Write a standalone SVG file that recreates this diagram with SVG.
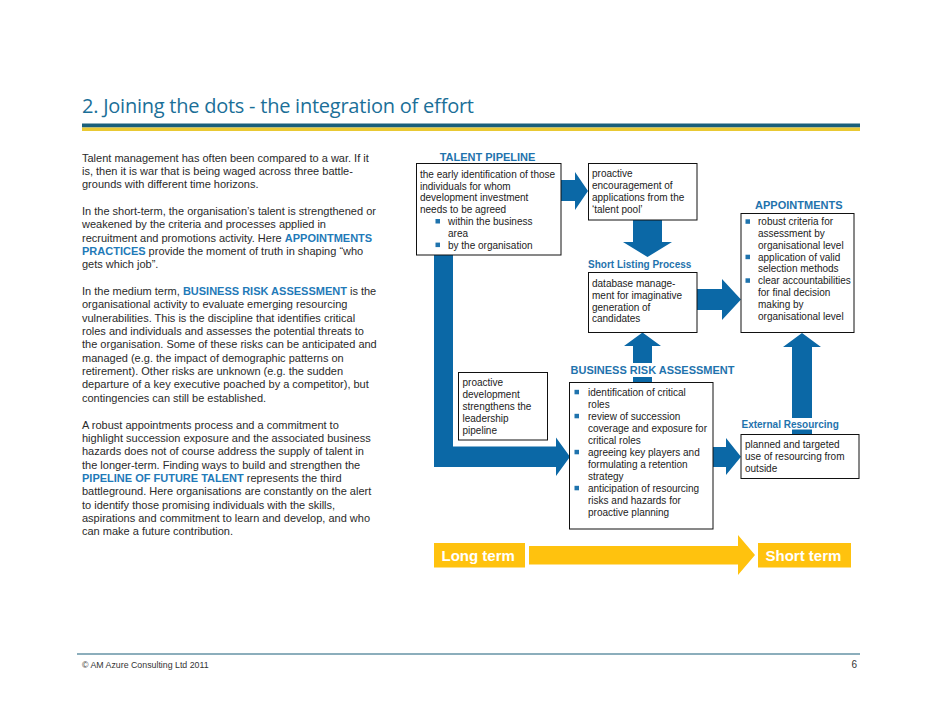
<svg xmlns="http://www.w3.org/2000/svg" width="942" height="728" viewBox="0 0 942 728">
<style>
.body{font-family:"Liberation Sans",Arial,sans-serif;font-size:11px;fill:#2a2a2a}
.hl{font-weight:bold;fill:#1f7ab8}
.t{font-family:"Liberation Sans",Arial,sans-serif;font-size:10px;fill:#222}
.lbl{font-family:"Liberation Sans",Arial,sans-serif;font-weight:bold;fill:#1f73ad}
.box{fill:#fff;stroke:#111;stroke-width:1}
.arr{fill:#0b68a6}
.bul{fill:#1f73ad}
.yel{fill:#ffc20e}
.wt{font-family:"Liberation Sans",Arial,sans-serif;font-size:15px;font-weight:bold;fill:#fff}
</style>
<rect width="942" height="728" fill="#fff"/>
<g id="title">
<text x="82" y="113" font-family="'Open Sans',sans-serif" font-size="20" fill="#1b6f98" textLength="392" lengthAdjust="spacing">2. Joining the dots - the integration of effort</text>
<rect x="82" y="123.5" width="778" height="4" fill="#1a5f7a"/>
<rect x="82" y="127.5" width="778" height="3.5" fill="#e9c934"/>
</g>
<g id="body-text" class="body">
<text x="82" y="161.5">Talent management has often been compared to a war. If it</text>
<text x="82" y="174.85">is, then it is war that is being waged across three battle-</text>
<text x="82" y="188.2">grounds with different time horizons.</text>
<text x="82" y="214.9">In the short-term, the organisation’s talent is strengthened or</text>
<text x="82" y="228.25">weakened by the criteria and processes applied in</text>
<text x="82" y="241.6">recruitment and promotions activity. Here <tspan class="hl">APPOINTMENTS</tspan></text>
<text x="82" y="254.95"><tspan class="hl">PRACTICES</tspan> provide the moment of truth in shaping “who</text>
<text x="82" y="268.3">gets which job”.</text>
<text x="82" y="295"><tspan>In the medium term, </tspan><tspan class="hl">BUSINESS RISK ASSESSMENT</tspan> is the</text>
<text x="82" y="308.35">organisational activity to evaluate emerging resourcing</text>
<text x="82" y="321.7">vulnerabilities. This is the discipline that identifies critical</text>
<text x="82" y="335.05">roles and individuals and assesses the potential threats to</text>
<text x="82" y="348.4">the organisation. Some of these risks can be anticipated and</text>
<text x="82" y="361.75">managed (e.g. the impact of demographic patterns on</text>
<text x="82" y="375.1">retirement). Other risks are unknown (e.g. the sudden</text>
<text x="82" y="388.45">departure of a key executive poached by a competitor), but</text>
<text x="82" y="401.8">contingencies can still be established.</text>
<text x="82" y="428.5">A robust appointments process and a commitment to</text>
<text x="82" y="441.85">highlight succession exposure and the associated business</text>
<text x="82" y="455.2">hazards does not of course address the supply of talent in</text>
<text x="82" y="468.55">the longer-term. Finding ways to build and strengthen the</text>
<text x="82" y="481.9"><tspan class="hl">PIPELINE OF FUTURE TALENT</tspan> represents the third</text>
<text x="82" y="495.25">battleground. Here organisations are constantly on the alert</text>
<text x="82" y="508.6">to identify those promising individuals with the skills,</text>
<text x="82" y="521.95">aspirations and commitment to learn and develop, and who</text>
<text x="82" y="535.3">can make a future contribution.</text>
</g>
<g id="connectors">
<polygon class="arr" points="434,255 453,255 453,446.5 556,446.5 556,437.5 570,456.7 556,476 556,467 434,467"/>
<polygon class="arr" points="561,180 575,180 575,172 588,191 575,210 575,201 561,201"/>
<polygon class="arr" points="633,220 662,220 662,242 672,242 647.5,257 623,242 633,242"/>
<polygon class="arr" points="697,289 722,289 722,279 741,299.5 722,320 722,310 697,310"/>
<polygon class="arr" points="633,382 652,382 652,346 661,346 642.5,332.5 624,346 633,346"/>
<polygon class="arr" points="792,434 812,434 812,347 821,347 802,333 783,347 792,347"/>
<polygon class="arr" points="713,447 726,447 726,438 741,456.7 726,475 726,467 713,467"/>
</g>
<g id="talent-pipeline">
<text class="lbl" x="487.5" y="160.5" font-size="11" text-anchor="middle">TALENT PIPELINE</text>
<rect class="box" x="416.5" y="163.5" width="144.5" height="91.5"/>
<text class="t" x="420" y="177.7">the early identification of those</text>
<text class="t" x="420" y="189.5">individuals for whom</text>
<text class="t" x="420" y="201.3">development investment</text>
<text class="t" x="420" y="213.1">needs to be agreed</text>
<rect class="bul" x="435.5" y="219" width="4.5" height="4.5"/>
<text class="t" x="448" y="224.9">within the business</text>
<text class="t" x="448" y="236.7">area</text>
<rect class="bul" x="435.5" y="242.6" width="4.5" height="4.5"/>
<text class="t" x="448" y="248.5">by the organisation</text>
</g>
<g id="talent-pool">
<rect class="box" x="588.5" y="163.5" width="108.5" height="56.5"/>
<text class="t" x="592" y="177">proactive</text>
<text class="t" x="592" y="189">encouragement of</text>
<text class="t" x="592" y="201">applications from the</text>
<text class="t" x="592" y="213">‘talent pool’</text>
</g>
<g id="short-listing">
<text class="lbl" x="588" y="267.5" font-size="10">Short Listing Process</text>
<rect class="box" x="588.5" y="272.5" width="108.5" height="60"/>
<text class="t" x="592" y="287">database manage-</text>
<text class="t" x="592" y="298.8">ment for imaginative</text>
<text class="t" x="592" y="310.6">generation of</text>
<text class="t" x="592" y="322.4">candidates</text>
</g>
<g id="appointments">
<text class="lbl" x="798.8" y="209" font-size="11" text-anchor="middle">APPOINTMENTS</text>
<rect class="box" x="741" y="213.5" width="113" height="119"/>
<rect class="bul" x="745.5" y="219.3" width="4.5" height="4.5"/>
<text class="t" x="758" y="225.2">robust criteria for</text>
<text class="t" x="758" y="237">assessment by</text>
<text class="t" x="758" y="248.8">organisational level</text>
<rect class="bul" x="745.5" y="254.7" width="4.5" height="4.5"/>
<text class="t" x="758" y="260.6">application of valid</text>
<text class="t" x="758" y="272.4">selection methods</text>
<rect class="bul" x="745.5" y="278.3" width="4.5" height="4.5"/>
<text class="t" x="758" y="284.2">clear accountabilities</text>
<text class="t" x="758" y="296">for final decision</text>
<text class="t" x="758" y="307.8">making by</text>
<text class="t" x="758" y="319.6">organisational level</text>
</g>
<g id="business-risk-assessment">
<rect x="568" y="363" width="170" height="14" fill="#fff"/>
<text class="lbl" x="570.5" y="374" font-size="11">BUSINESS RISK ASSESSMENT</text>
<rect class="box" x="569.5" y="382.5" width="143.5" height="146.5"/>
<rect class="bul" x="574.5" y="389.8" width="4.5" height="4.5"/>
<text class="t" x="588" y="395.8">identification of critical</text>
<text class="t" x="588" y="407.8">roles</text>
<rect class="bul" x="574.5" y="413.8" width="4.5" height="4.5"/>
<text class="t" x="588" y="419.8">review of succession</text>
<text class="t" x="588" y="431.8">coverage and exposure for</text>
<text class="t" x="588" y="443.8">critical roles</text>
<rect class="bul" x="574.5" y="449.8" width="4.5" height="4.5"/>
<text class="t" x="588" y="455.8">agreeing key players and</text>
<text class="t" x="588" y="467.8">formulating a retention</text>
<text class="t" x="588" y="479.8">strategy</text>
<rect class="bul" x="574.5" y="485.8" width="4.5" height="4.5"/>
<text class="t" x="588" y="491.8">anticipation of resourcing</text>
<text class="t" x="588" y="503.8">risks and hazards for</text>
<text class="t" x="588" y="515.8">proactive planning</text>
</g>
<g id="proactive-development">
<rect class="box" x="458.5" y="372.5" width="89" height="67.5"/>
<text class="t" x="462.5" y="386.2">proactive</text>
<text class="t" x="462.5" y="398.1">development</text>
<text class="t" x="462.5" y="410">strengthens the</text>
<text class="t" x="462.5" y="421.9">leadership</text>
<text class="t" x="462.5" y="433.8">pipeline</text>
</g>
<g id="external-resourcing">
<rect x="740" y="418" width="100" height="11.5" fill="#fff"/>
<text class="lbl" x="741.5" y="428" font-size="10">External Resourcing</text>
<rect class="box" x="741" y="434.5" width="118" height="44"/>
<text class="t" x="745" y="447.5">planned and targeted</text>
<text class="t" x="745" y="459.7">use of resourcing from</text>
<text class="t" x="745" y="471.9">outside</text>
</g>
<g id="timeline">
<rect class="yel" x="434" y="543" width="91" height="24.5"/>
<text class="wt" x="441.5" y="560.5">Long term</text>
<polygon class="yel" points="529,546 738,546 738,535 755,555 738,575 738,564.5 529,564.5"/>
<rect class="yel" x="758" y="543" width="93" height="24.5"/>
<text class="wt" x="765.5" y="560.5">Short term</text>
</g>
<g id="footer">
<rect x="77" y="653.5" width="783" height="1" fill="#1a5f7a"/>
<text x="82" y="667.5" font-family="'Liberation Sans',Arial,sans-serif" font-size="8.8" fill="#333">© AM Azure Consulting Ltd 2011</text>
<text x="857" y="668" font-family="'Liberation Sans',Arial,sans-serif" font-size="10" fill="#333" text-anchor="end">6</text>
</g>
</svg>
